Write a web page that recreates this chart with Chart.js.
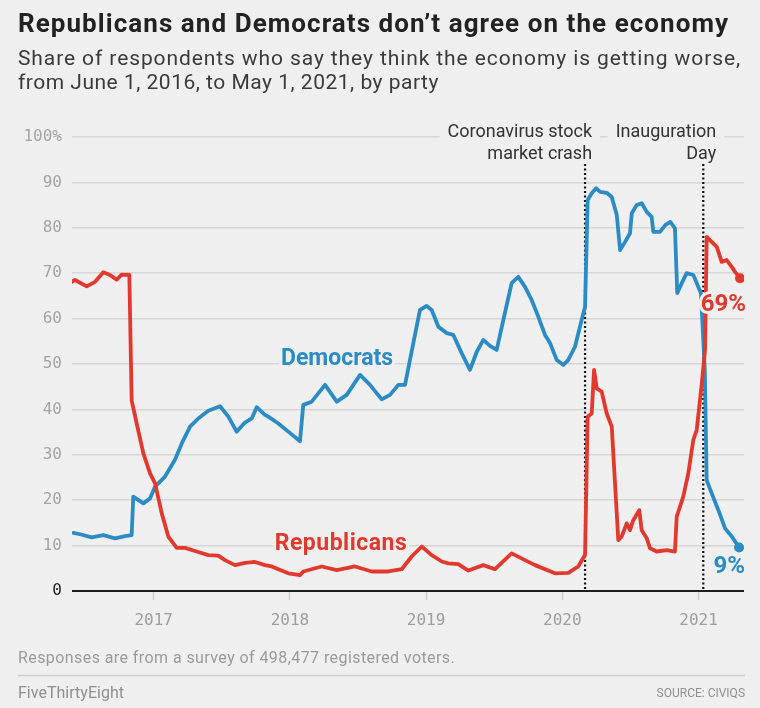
<!DOCTYPE html>
<html><head><meta charset="utf-8">
<script src="https://cdn.jsdelivr.net/npm/chart.js@4/dist/chart.umd.min.js"></script>
<style>html,body{margin:0;padding:0;background:#efefef;}#wrap{width:760px;height:708px;}</style>
</head><body><div id="wrap"><canvas id="c" width="760" height="708"></canvas></div>
<script>
const title = "Republicans and Democrats don\u2019t agree on the economy";
const subtitleLines = ["Share of respondents who say they think the economy is getting worse,", "from June 1, 2016, to May 1, 2021, by party"];
const note = "Responses are from a survey of 498,477 registered voters.";
const credit = "FiveThirtyEight";
const source = "SOURCE: CIVIQS";
const yearTicks = [2017, 2018, 2019, 2020, 2021];
const yTicks = [0, 10, 20, 30, 40, 50, 60, 70, 80, 90, 100];
const seriesNames = ["Democrats", "Republicans"];
const eventDates = [2020.167, 2021.035];
const eventLabels = [["Coronavirus stock", "market crash"], ["Inauguration", "Day"]];

const demDates = [2016.410, 2016.459, 2016.545, 2016.630, 2016.716, 2016.789, 2016.838, 2016.850, 2016.924, 2016.973, 2017.010, 2017.083, 2017.156, 2017.206, 2017.267, 2017.327, 2017.401, 2017.487, 2017.548, 2017.609, 2017.670, 2017.720, 2017.756, 2017.817, 2017.841, 2017.915, 2017.988, 2018.074, 2018.098, 2018.160, 2018.258, 2018.344, 2018.417, 2018.515, 2018.588, 2018.674, 2018.735, 2018.796, 2018.845, 2018.906, 2018.955, 2019.004, 2019.041, 2019.090, 2019.151, 2019.200, 2019.261, 2019.322, 2019.372, 2019.420, 2019.469, 2019.518, 2019.567, 2019.628, 2019.677, 2019.726, 2019.775, 2019.824, 2019.873, 2019.910, 2019.959, 2020.008, 2020.044, 2020.093, 2020.142, 2020.167, 2020.186, 2020.216, 2020.248, 2020.278, 2020.326, 2020.363, 2020.400, 2020.424, 2020.461, 2020.497, 2020.510, 2020.546, 2020.583, 2020.620, 2020.656, 2020.668, 2020.717, 2020.756, 2020.793, 2020.827, 2020.844, 2020.877, 2020.913, 2020.962, 2021.018, 2021.046, 2021.060, 2021.097, 2021.146, 2021.195, 2021.244, 2021.298];
const demValues = [12.8, 12.5, 11.8, 12.3, 11.6, 12.1, 12.3, 20.8, 19.3, 20.4, 23.0, 25.2, 28.9, 32.5, 36.2, 38.0, 39.7, 40.7, 38.4, 35.1, 37.1, 38.0, 40.5, 38.8, 38.4, 36.9, 35.1, 33.0, 41.0, 41.7, 45.4, 41.7, 43.2, 47.6, 45.4, 42.2, 43.2, 45.4, 45.4, 54.6, 61.9, 62.8, 61.9, 58.2, 56.8, 56.4, 52.4, 48.7, 52.7, 55.3, 54.0, 53.1, 59.7, 67.8, 69.2, 67.0, 64.1, 60.4, 56.4, 54.6, 50.9, 49.8, 50.9, 53.8, 59.7, 62.6, 86.1, 87.6, 88.7, 87.9, 87.7, 86.8, 82.8, 75.1, 76.9, 78.8, 83.2, 85.0, 85.4, 83.5, 82.4, 79.1, 79.1, 80.6, 81.3, 79.9, 65.6, 67.8, 70.0, 69.6, 65.6, 48.7, 24.4, 21.5, 17.8, 13.8, 12.0, 9.6];

const repDates = [2016.398, 2016.422, 2016.508, 2016.569, 2016.630, 2016.679, 2016.728, 2016.765, 2016.821, 2016.838, 2016.875, 2016.924, 2016.973, 2017.010, 2017.059, 2017.107, 2017.169, 2017.230, 2017.303, 2017.401, 2017.474, 2017.523, 2017.597, 2017.670, 2017.744, 2017.817, 2017.866, 2017.988, 2018.074, 2018.098, 2018.233, 2018.344, 2018.478, 2018.601, 2018.722, 2018.821, 2018.894, 2018.968, 2019.041, 2019.115, 2019.163, 2019.236, 2019.310, 2019.420, 2019.506, 2019.628, 2019.726, 2019.800, 2019.946, 2020.044, 2020.117, 2020.167, 2020.186, 2020.216, 2020.233, 2020.253, 2020.289, 2020.326, 2020.363, 2020.387, 2020.411, 2020.436, 2020.473, 2020.497, 2020.521, 2020.565, 2020.583, 2020.620, 2020.644, 2020.693, 2020.767, 2020.827, 2020.840, 2020.888, 2020.925, 2020.962, 2020.987, 2021.024, 2021.048, 2021.060, 2021.097, 2021.134, 2021.170, 2021.207, 2021.244, 2021.268, 2021.305];
const repValues = [68.1, 68.5, 67.1, 68.1, 70.2, 69.6, 68.6, 69.7, 69.6, 42.0, 36.9, 30.3, 25.9, 23.7, 17.1, 12.0, 9.5, 9.5, 8.8, 7.9, 7.8, 6.8, 5.7, 6.2, 6.4, 5.7, 5.4, 3.9, 3.5, 4.3, 5.4, 4.6, 5.4, 4.3, 4.3, 4.8, 7.6, 9.8, 7.9, 6.5, 6.1, 5.9, 4.5, 5.7, 4.8, 8.3, 6.8, 5.7, 3.9, 4.0, 5.4, 8.0, 38.4, 39.1, 48.7, 44.6, 43.9, 39.1, 36.2, 23.7, 11.2, 12.0, 14.9, 13.4, 15.6, 17.8, 13.4, 11.6, 9.4, 8.7, 9.0, 8.7, 16.4, 20.8, 25.9, 33.3, 35.5, 45.7, 53.1, 78.0, 76.9, 75.8, 72.5, 72.9, 71.4, 70.3, 68.9];

const BG = '#efefef';
const BLUE = '#2b8bc4';
const RED = '#e2392e';

function toPoints(xs, ys) { return xs.map((x, i) => ({ x: x, y: ys[i] })); }

function haloText(c, text, x, y, color) {
  c.lineJoin = 'round';
  c.lineWidth = 6;
  c.strokeStyle = BG;
  c.strokeText(text, x, y);
  c.fillStyle = color;
  c.fillText(text, x, y);
}

// draw text stretched (via letter spacing) to a target width
function fitText(c, text, x, y, width) {
  c.letterSpacing = '0px';
  const w = c.measureText(text).width;
  const extra = (width - w) / Math.max(1, text.length - 1);
  c.letterSpacing = extra.toFixed(2) + 'px';
  c.fillText(text, x, y);
  c.letterSpacing = '0px';
}

const decor = {
  id: 'decor',
  beforeDraw(chart) {
    const c = chart.ctx;
    c.save();
    c.fillStyle = BG;
    c.fillRect(0, 0, chart.width, chart.height);
    c.restore();
  },
  beforeDatasetsDraw(chart) {
    const c = chart.ctx, xs = chart.scales.x, ys = chart.scales.y;
    c.save();
    c.font = '18px Roboto';
    c.textAlign = 'right';
    c.textBaseline = 'alphabetic';
    const dx = [7, 13];
    eventDates.forEach((d, i) => {
      const px = xs.getPixelForValue(d);
      const right = px + dx[i];
      const w = c.measureText(eventLabels[i][0]).width;
      c.fillStyle = BG;
      c.fillRect(right - w - 8, 120, w + 16, 23);
      c.fillStyle = '#333';
      c.fillText(eventLabels[i][0], right, 137);
      c.fillText(eventLabels[i][1], right, 159);
      c.beginPath();
      c.setLineDash([2, 2.5]);
      c.lineWidth = 2.2;
      c.strokeStyle = '#111';
      c.moveTo(px, 164);
      c.lineTo(px, ys.getPixelForValue(0));
      c.stroke();
      c.setLineDash([]);
    });
    c.restore();
  },
  afterDatasetsDraw(chart) {
    const c = chart.ctx, xs = chart.scales.x, ys = chart.scales.y;
    c.save();
    c.font = 'bold 23px Roboto';
    c.textAlign = 'center';
    c.textBaseline = 'middle';
    haloText(c, seriesNames[0], xs.getPixelForValue(2018.346), ys.getPixelForValue(51.1), BLUE);
    c.letterSpacing = '0.5px';
    haloText(c, seriesNames[1], xs.getPixelForValue(2018.375), ys.getPixelForValue(10.35), RED);
    c.letterSpacing = '0px';
    c.font = 'bold 24px Roboto';
    c.textAlign = 'right';
    const rl = repValues[repValues.length - 1], dl = demValues[demValues.length - 1];
    const rx = xs.getPixelForValue(repDates[repDates.length - 1]);
    const dxp = xs.getPixelForValue(demDates[demDates.length - 1]);
    haloText(c, Math.round(rl) + '%', rx + 6, ys.getPixelForValue(rl) + 27, RED);
    haloText(c, Math.floor(dl) + '%', dxp + 6, ys.getPixelForValue(dl) + 20, BLUE);
    c.restore();
  },
  afterDraw(chart) {
    const c = chart.ctx;
    c.save();
    c.textAlign = 'left';
    c.textBaseline = 'alphabetic';
    c.fillStyle = '#222';
    c.font = 'bold 26px Roboto';
    fitText(c, title, 18, 32, 710);
    c.fillStyle = '#3a3a3a';
    c.font = '21px Roboto';
    fitText(c, subtitleLines[0], 18, 65, 722);
    c.letterSpacing = '0.5px';
    c.fillText(subtitleLines[1], 18, 89);
    c.letterSpacing = '0px';
    c.fillStyle = '#9a9a9a';
    c.font = '16px Roboto';
    fitText(c, note, 18, 663, 437);
    c.strokeStyle = '#cfcfcf';
    c.lineWidth = 1.5;
    c.beginPath();
    c.moveTo(18, 675.5);
    c.lineTo(745, 675.5);
    c.stroke();
    c.fillStyle = '#8f8f8f';
    c.font = '16px Roboto';
    fitText(c, credit, 18, 698, 106);
    c.textAlign = 'right';
    c.font = '12px Roboto';
    c.fillText(source, 745, 697);
    c.restore();
  }
};

const endDot = ctx => ctx.dataIndex === ctx.dataset.data.length - 1 ? 5 : 0;

new Chart(document.getElementById('c'), {
  type: 'line',
  data: {
    datasets: [
      { label: seriesNames[1], data: toPoints(repDates, repValues), borderColor: RED, backgroundColor: RED,
        borderWidth: 3.8, tension: 0, pointRadius: endDot, pointBorderWidth: 0, pointHoverRadius: 0,
        borderJoinStyle: 'round', borderCapStyle: 'round', fill: false },
      { label: seriesNames[0], data: toPoints(demDates, demValues), borderColor: BLUE, backgroundColor: BLUE,
        borderWidth: 3.8, tension: 0, pointRadius: endDot, pointBorderWidth: 0, pointHoverRadius: 0,
        borderJoinStyle: 'round', borderCapStyle: 'round', fill: false }
    ]
  },
  options: {
    responsive: false,
    animation: false,
    devicePixelRatio: 1,
    layout: { padding: { top: 137, left: 0, right: 16, bottom: 77 } },
    plugins: { legend: { display: false }, tooltip: { enabled: false }, title: { display: false } },
    scales: {
      x: {
        type: 'linear', min: 2016.40, max: 2021.334,
        afterBuildTicks: s => { s.ticks = yearTicks.map(v => ({ value: v })); },
        afterFit: s => { s.height = 40; },
        grid: { drawOnChartArea: false, drawTicks: true, tickLength: 9, tickColor: '#cdcdcd', tickWidth: 1.5 },
        border: { display: false },
        ticks: { color: '#9d9d9d', font: { family: 'DejaVu Sans Mono', size: 16 }, padding: 11, maxRotation: 0, autoSkip: false,
          callback: v => String(v) }
      },
      y: {
        min: 0, max: 100,
        afterBuildTicks: s => { s.ticks = yTicks.map(v => ({ value: v })); },
        afterFit: s => { s.width = 72; },
        grid: { drawTicks: false,
          color: c => (c.tick && c.tick.value === 0) ? '#1e1e1e' : '#d6d6d6',
          lineWidth: c => (c.tick && c.tick.value === 0) ? 2 : 1.5 },
        border: { display: false },
        ticks: { padding: 10, font: { family: 'DejaVu Sans Mono', size: 16 },
          color: c => (c.tick && c.tick.value === 0) ? '#222' : '#a3a3a3',
          callback: v => v === 100 ? '100%' : String(v) }
      }
    }
  },
  plugins: [decor]
});
</script>
</body></html>
